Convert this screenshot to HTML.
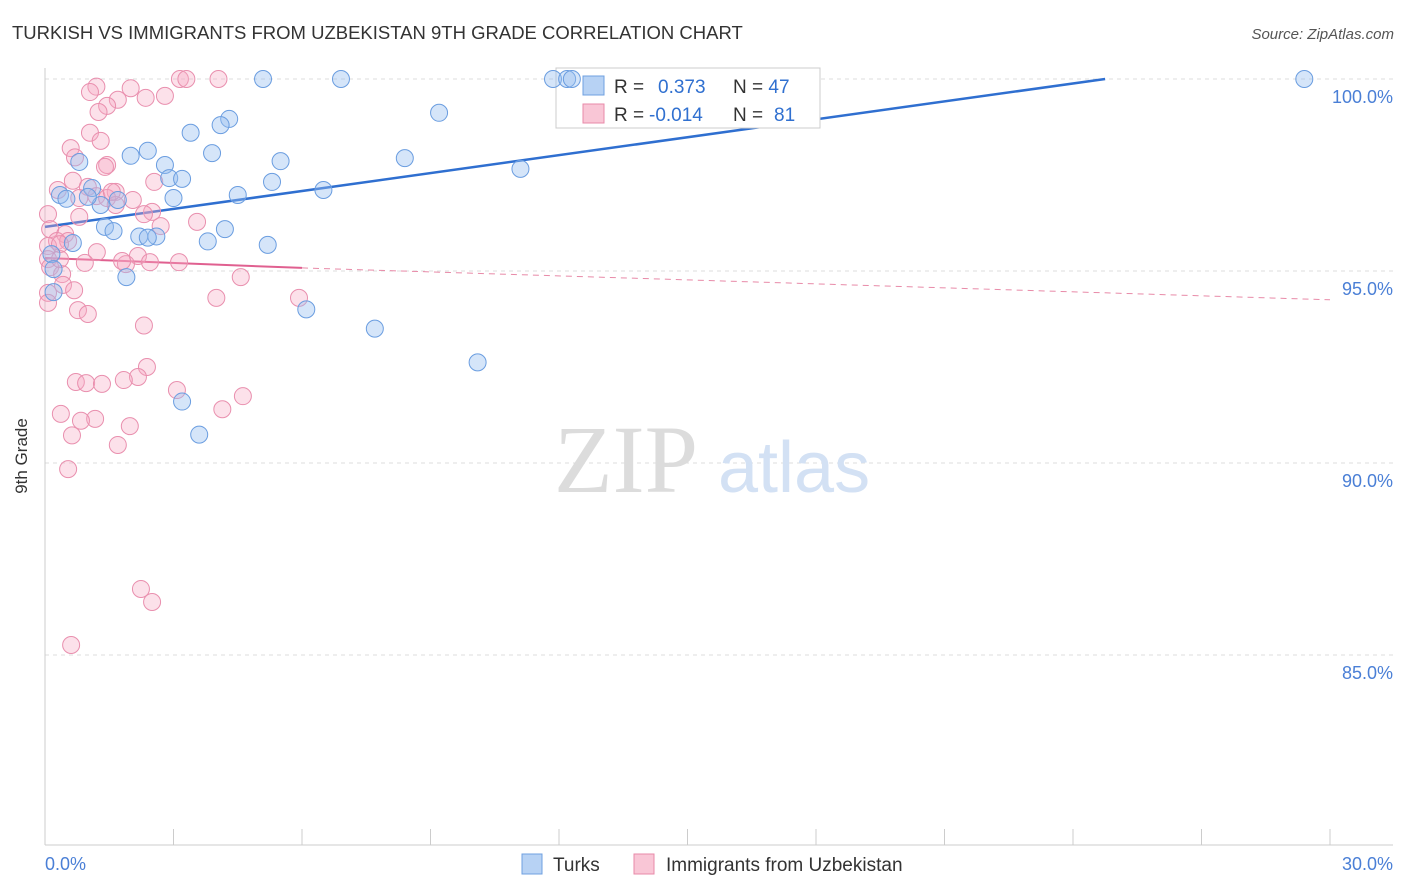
<!DOCTYPE html>
<html><head><meta charset="utf-8"><style>
body{margin:0;background:#fff;font-family:"Liberation Sans",sans-serif}
svg{display:block}
</style></head><body>
<svg width="1406" height="892">
<text x="12" y="39" font-size="18.5" fill="#333">TURKISH VS IMMIGRANTS FROM UZBEKISTAN 9TH GRADE CORRELATION CHART</text>
<text x="1394" y="39" font-size="15" fill="#555" font-style="italic" text-anchor="end">Source: ZipAtlas.com</text>
<g id="grid"></g>
<line x1="45" y1="68" x2="45" y2="845" stroke="#ccc"/>
<line x1="45" y1="845" x2="1393" y2="845" stroke="#ccc"/>
<g id="ticks"></g>
<text x="27" y="456" font-size="17" fill="#333" transform="rotate(-90 27 456)" text-anchor="middle">9th Grade</text>
<text x="45" y="870" font-size="18" fill="#4a7fd6">0.0%</text>
<text x="1393" y="870" font-size="18" fill="#4a7fd6" text-anchor="end">30.0%</text>
<g>
<text x="554" y="492" font-size="96" fill="#dcdcdc" font-family="Liberation Serif,serif">ZIP</text>
<text x="718" y="492" font-size="72" fill="#d3e1f4">atlas</text>
</g>
<g id="lines"></g>
<g>
<rect x="556" y="68" width="264" height="60" fill="#fff" stroke="#ccc"/>
<rect x="583" y="76" width="21" height="19" fill="#b7d2f4" stroke="#6fa0e0"/>
<rect x="583" y="104" width="21" height="19" fill="#f9c6d6" stroke="#e88aa8"/>
<text x="614" y="93" font-size="19" fill="#333">R = <tspan fill="#3070d0" x="658">0.373</tspan><tspan x="733">N = </tspan><tspan fill="#3070d0">47</tspan></text>
<text x="614" y="121" font-size="19" fill="#333">R = <tspan fill="#3070d0" x="649">-0.014</tspan><tspan x="733">N = </tspan><tspan fill="#3070d0" x="774">81</tspan></text>
</g>
<g id="pts"></g>
<g>
<rect x="522" y="854" width="20" height="20" fill="#b7d2f4" stroke="#6fa0e0"/>
<text x="553" y="871" font-size="19" fill="#333">Turks</text>
<rect x="634" y="854" width="20" height="20" fill="#f9c6d6" stroke="#e88aa8"/>
<text x="666" y="871" font-size="19" fill="#333">Immigrants from Uzbekistan</text>
</g>
</svg>
<script>
const yTicks=[100,95,90,85];
const yTickLabels=["100.0%","95.0%","90.0%","85.0%"];
const xTicks=[0,3,6,9,12,15,18,21,24,27,30];
const turksX=[5.09,6.91,11.86,12.19,12.3,29.4,9.2,4.3,4.1,3.4,2.4,2.0,3.9,8.4,5.5,2.8,11.1,0.8,2.9,3.2,5.3,6.5,1.1,4.5,3.0,0.35,0.5,1.7,1.3,1.0,1.4,1.6,2.2,2.6,2.4,3.8,4.2,5.2,0.65,0.15,0.2,1.9,0.2,6.1,7.7,10.1,3.2,3.6];
const turksY=[100,100,100,100,100,100,99.12,98.96,98.8,98.6,98.13,98.0,98.07,97.94,97.86,97.76,97.66,97.84,97.42,97.4,97.32,97.11,97.16,96.98,96.9,96.98,96.88,96.85,96.72,96.93,96.15,96.04,95.9,95.9,95.87,95.77,96.09,95.68,95.73,95.44,95.05,94.84,94.45,94.0,93.5,92.62,91.6,90.74];
const uzX=[3.15,3.3,4.05,1.2,1.05,2.0,2.8,2.35,1.7,1.45,1.25,1.05,1.3,0.6,0.7,1.45,1.4,0.65,2.55,1.0,0.3,1.65,1.2,0.8,1.45,1.65,2.05,0.8,3.55,2.7,2.5,0.07,0.12,0.47,0.28,0.07,0.54,0.35,1.21,0.07,2.17,0.12,0.93,2.45,1.89,1.8,3.13,0.4,4.57,0.42,0.68,0.07,0.07,4.0,5.93,0.77,1.0,2.31,2.38,2.17,0.72,0.96,1.84,1.33,3.08,4.62,0.37,1.17,0.84,4.14,1.98,0.63,1.7,0.54,2.24,2.5,0.61,2.31,1.56,0.35];
const uzY=[100,100,100,99.8,99.66,99.76,99.56,99.51,99.46,99.3,99.14,98.6,98.39,98.2,97.96,97.76,97.71,97.35,97.32,97.19,97.11,97.06,96.95,96.9,96.9,96.72,96.85,96.41,96.28,96.17,96.54,96.48,96.09,95.96,95.78,95.65,95.78,95.7,95.49,95.31,95.39,95.1,95.21,95.23,95.18,95.26,95.23,94.92,94.84,94.64,94.5,94.43,94.17,94.3,94.3,93.98,93.88,93.58,92.5,92.24,92.11,92.08,92.16,92.06,91.9,91.74,91.28,91.15,91.1,91.4,90.96,90.72,90.47,89.84,86.72,86.38,85.26,96.48,97.06,95.31];
const X=v=>45+v*(1285/30), Y=v=>79+(100-v)*38.4;
const NS="http://www.w3.org/2000/svg";
function mk(t,a,p){const e=document.createElementNS(NS,t);for(const k in a)e.setAttribute(k,a[k]);p.appendChild(e);return e;}
const grid=document.getElementById('grid');
yTicks.forEach((t,i)=>{
 const l=mk('line',{x1:45,x2:1393,y1:Y(t),y2:Y(t),stroke:'#ddd','stroke-dasharray':'4,4'},grid);
 
 
 const tx=mk('text',{x:1393,y:Y(t)+24,'font-size':18,fill:'#4a7fd6','text-anchor':'end'},grid);
 tx.textContent=yTickLabels[i];
 
 
});
const ticks=document.getElementById('ticks');
xTicks.forEach(t=>{
 const l=mk('line',{x1:X(t),x2:X(t),y1:829,y2:845,stroke:'#ccc'},ticks);
 
 
});
const pts=document.getElementById('pts');
uzX.forEach((x,i)=>{
 const c=mk('circle',{cx:X(x),cy:Y(uzY[i]),r:8.5,fill:'rgba(246,170,196,0.35)',stroke:'#e98fae','stroke-width':1},pts);
 
 
});
turksX.forEach((x,i)=>{
 const c=mk('circle',{cx:X(x),cy:Y(turksY[i]),r:8.5,fill:'rgba(150,190,240,0.4)',stroke:'#6a9de0','stroke-width':1},pts);
 
 
});
const lines=document.getElementById('lines');
let e=mk('line',{x1:X(0),y1:Y(96.15),x2:X(24.75),y2:Y(100),stroke:'#2f6fd0','stroke-width':2.5},lines);


e=mk('line',{x1:X(0),y1:Y(95.34),x2:X(6),y2:Y(95.08),stroke:'#e06090','stroke-width':2},lines);


e=mk('line',{x1:X(6),y1:Y(95.08),x2:X(30),y2:Y(94.25),stroke:'#e88aa8','stroke-width':1,'stroke-dasharray':'6,5'},lines);


</script>
</body></html>
